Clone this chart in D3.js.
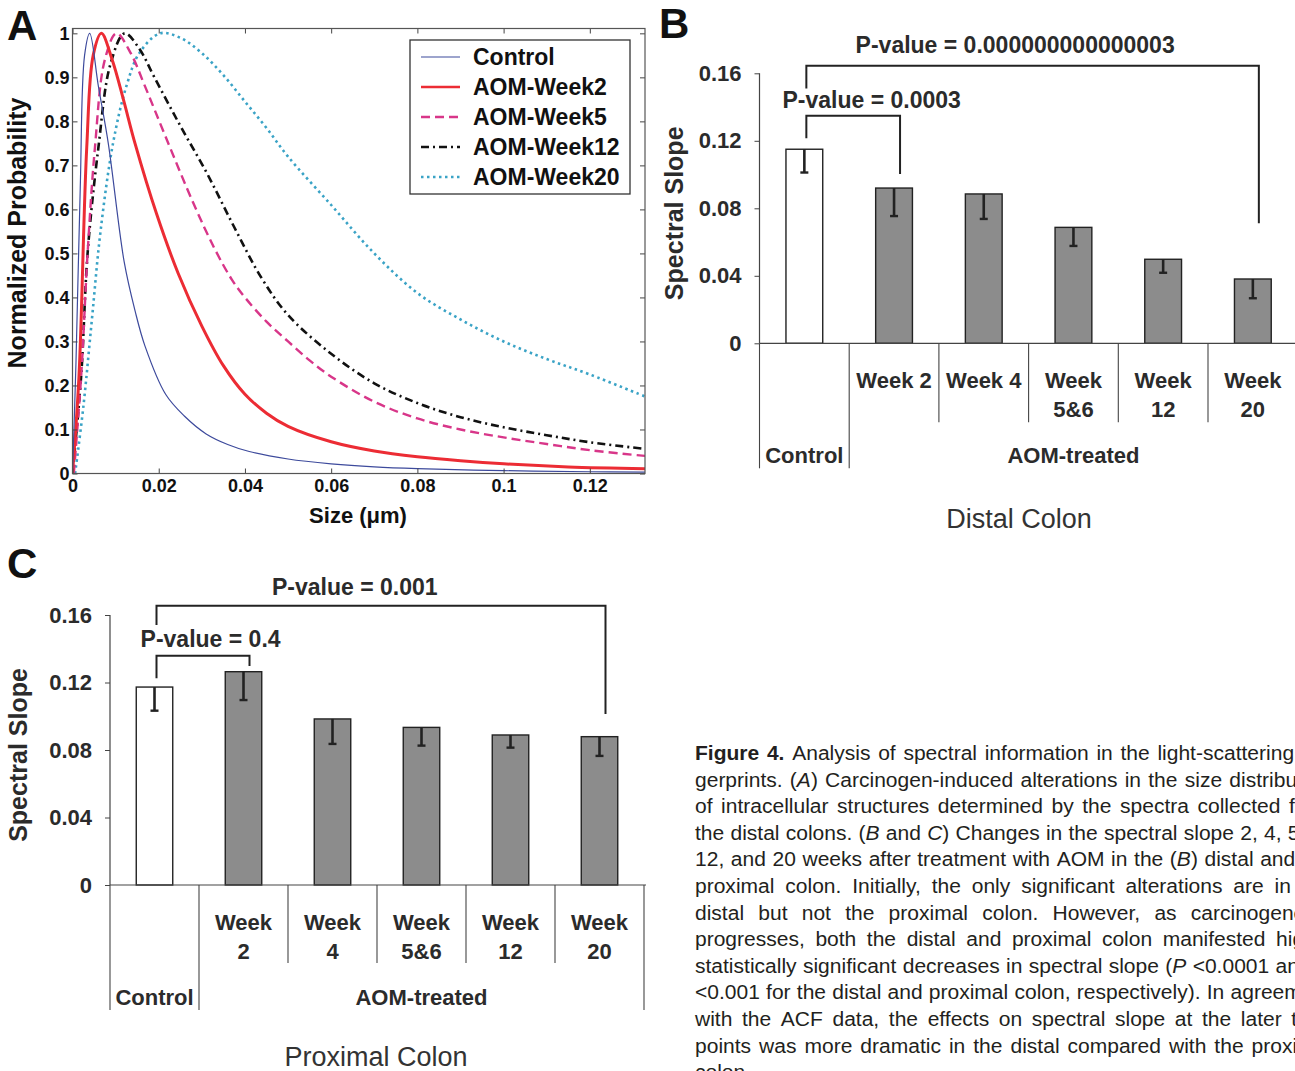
<!DOCTYPE html>
<html>
<head>
<meta charset="utf-8">
<script src="https://cdn.jsdelivr.net/npm/d3@7"></script>
<style>
  body { margin: 0; background: #fff; overflow: hidden; }
  svg { display: block; }
  text { font-family: "Liberation Sans", Arial, Helvetica, sans-serif; }
</style>
</head>
<body>
<svg id="fig" width="1295" height="1071"></svg>
<script>
// ---- data, panel A (size distributions)
const seriesNames = ["Control", "AOM-Week2", "AOM-Week5", "AOM-Week12", "AOM-Week20"];

const curveControl = [[0,0],[0.0008,0.25],[0.0018,0.65],[0.0028,0.95],[0.004,1],[0.006,0.88],[0.0083,0.75],
  [0.012,0.48],[0.0145,0.37],[0.0168,0.29],[0.0216,0.18],[0.026,0.13],[0.031,0.09],[0.036,0.066],[0.041,0.05],
  [0.05,0.033],[0.06,0.022],[0.07,0.015],[0.08,0.011],[0.1,0.0065],[0.12,0.004],[0.1328,0.003]];
const curveWeek2 = [[0,0],[0.0015,0.22],[0.0033,0.74],[0.0048,0.95],[0.0067,1],[0.0092,0.94],[0.0118,0.85],
  [0.0145,0.75],[0.0195,0.59],[0.0245,0.455],[0.03,0.335],[0.035,0.245],[0.04,0.18],[0.045,0.137],[0.05,0.107],
  [0.06,0.072],[0.07,0.051],[0.08,0.038],[0.09,0.029],[0.1,0.022],[0.115,0.015],[0.1328,0.011]];
const curveWeek5 = [[0.0003,0],[0.002,0.22],[0.0035,0.5],[0.0052,0.74],[0.0075,0.94],[0.0102,1],[0.0135,0.955],
  [0.0168,0.88],[0.0216,0.765],[0.028,0.615],[0.033,0.51],[0.037,0.44],[0.04,0.4],[0.045,0.345],[0.05,0.3],
  [0.055,0.257],[0.06,0.22],[0.07,0.163],[0.08,0.125],[0.09,0.1],[0.1,0.082],[0.11,0.067],[0.12,0.053],[0.1328,0.04]];
const curveWeek12 = [[0,0],[0.002,0.22],[0.0035,0.5],[0.006,0.74],[0.0088,0.93],[0.0121,1],[0.0155,0.965],
  [0.019,0.9],[0.025,0.79],[0.0313,0.68],[0.0375,0.56],[0.0438,0.445],[0.05,0.36],[0.06,0.272],[0.07,0.205],
  [0.08,0.16],[0.09,0.128],[0.1,0.105],[0.11,0.087],[0.12,0.071],[0.1328,0.056]];
const curveWeek20 = [[0.0006,0],[0.0025,0.15],[0.0045,0.35],[0.0065,0.55],[0.0094,0.75],[0.0125,0.88],[0.0155,0.955],
  [0.0203,1],[0.025,0.99],[0.03,0.955],[0.035,0.905],[0.04,0.845],[0.045,0.785],[0.05,0.72],[0.06,0.61],
  [0.07,0.5],[0.08,0.41],[0.09,0.35],[0.1,0.3],[0.11,0.26],[0.12,0.225],[0.1328,0.175]];
const curvesA = [curveControl, curveWeek2, curveWeek5, curveWeek12, curveWeek20];

const xTicksA = [0, 0.02, 0.04, 0.06, 0.08, 0.1, 0.12];
const yTicksA = [0, 0.1, 0.2, 0.3, 0.4, 0.5, 0.6, 0.7, 0.8, 0.9, 1];

// ---- data, panels B and C (spectral slope)
const groups = ["Control", "Week 2", "Week 4", "Week 5&6", "Week 12", "Week 20"];
const distalSlope = [0.115, 0.092, 0.0885, 0.0687, 0.0498, 0.0381];
const distalErr   = [0.0138, 0.0166, 0.0148, 0.011, 0.008, 0.0114];
const proximalSlope = [0.1173, 0.1264, 0.0984, 0.0934, 0.0889, 0.0879];
const proximalErr   = [0.014, 0.0168, 0.0148, 0.0108, 0.0075, 0.0114];
const slopeTicks = [0, 0.04, 0.08, 0.12, 0.16];

// brackets: from/to = group index, levels in slope units
const distalBrackets = [
  { from: 0, to: 5, top: 0.1645, leftEnd: 0.151, rightEnd: 0.0711, label: "P-value = 0.000000000000003", labelAt: 2.85, labelY: 0.1768 },
  { from: 0, to: 1, top: 0.1349, leftEnd: 0.1215, rightEnd: 0.1003, label: "P-value = 0.0003", labelAt: 1.25, labelY: 0.1442 }
];
const proximalBrackets = [
  { from: 0, to: 5, top: 0.1655, leftEnd: 0.1541, rightEnd: 0.1013, label: "P-value = 0.001", labelAt: 2.75, labelY: 0.1766 },
  { from: 0, to: 1, top: 0.1359, leftEnd: 0.1225, rightEnd: 0.1298, label: "P-value = 0.4", labelAt: 1.13, labelY: 0.1458 }
];

const captionLines = [
  "**Figure** **4.** Analysis of spectral information in the light-scattering fin-",
  "gerprints. (*A*) Carcinogen-induced alterations in the size distribution",
  "of intracellular structures determined by the spectra collected from",
  "the distal colons. (*B* and *C*) Changes in the spectral slope 2, 4, 5&6,",
  "12, and 20 weeks after treatment with AOM in the (*B*) distal and (*C*)",
  "proximal colon. Initially, the only significant alterations are in the",
  "distal but not the proximal colon. However, as carcinogenesis",
  "progresses, both the distal and proximal colon manifested highly",
  "statistically significant decreases in spectral slope (*P* <0.0001 and *P*",
  "<0.001 for the distal and proximal colon, respectively). In agreement",
  "with the ACF data, the effects on spectral slope at the later time",
  "points was more dramatic in the distal compared with the proximal",
  "colon."
];

const svg = d3.select("#fig");
const ink = "#111";
const grayInk = "#2b2b2b";

// ================= Panel A =================
const xA = d3.scaleLinear().domain([0, 0.1328]).range([72.5, 645]);
const yA = d3.scaleLinear().domain([0, 1.011]).range([473.5, 28.5]);
const gA = svg.append("g");

gA.append("clipPath").attr("id", "clipA").append("rect")
  .attr("x", xA.range()[0]).attr("y", yA.range()[1])
  .attr("width", xA.range()[1] - xA.range()[0]).attr("height", yA.range()[0] - yA.range()[1]);

const styleA = {
  "Control":    { stroke: "#3d4a9c", w: 1.2, dash: null },
  "AOM-Week2":  { stroke: "#ec2c34", w: 3,   dash: null },
  "AOM-Week5":  { stroke: "#d83689", w: 2.4, dash: "9,5" },
  "AOM-Week12": { stroke: "#111",    w: 2.6, dash: "8,4,2,4" },
  "AOM-Week20": { stroke: "#3aa3c6", w: 2.6, dash: "2.5,3.5" }
};

const lineA = d3.line().x(d => xA(d[0])).y(d => yA(d[1])).curve(d3.curveCatmullRom.alpha(0.5));
const order = [4, 3, 2, 1, 0];
gA.append("g").attr("clip-path", "url(#clipA)")
  .selectAll("path")
  .data(order)
  .join("path")
    .attr("d", i => lineA(curvesA[i]))
    .attr("fill", "none")
    .attr("stroke", i => styleA[seriesNames[i]].stroke)
    .attr("stroke-width", i => styleA[seriesNames[i]].w)
    .attr("stroke-dasharray", i => styleA[seriesNames[i]].dash);

// axes (inward ticks on all four sides)
const fmtA = d3.format("~g");
gA.append("g").attr("transform", `translate(0,${yA.range()[0]})`)
  .call(d3.axisBottom(xA).tickValues(xTicksA).tickSize(-5).tickPadding(6).tickFormat(fmtA));
gA.append("g").attr("transform", `translate(${xA.range()[0]},0)`)
  .call(d3.axisLeft(yA).tickValues(yTicksA).tickSize(-5).tickPadding(3).tickFormat(fmtA));
gA.append("g").attr("transform", `translate(0,${yA.range()[1]})`)
  .call(d3.axisTop(xA).tickValues(xTicksA).tickSize(-5).tickFormat(""));
gA.append("g").attr("transform", `translate(${xA.range()[1]},0)`)
  .call(d3.axisRight(yA).tickValues(yTicksA).tickSize(-5).tickFormat(""));
gA.selectAll(".domain").remove();
gA.selectAll(".tick line").attr("stroke", "#444").attr("stroke-width", 1);
gA.selectAll(".tick text").attr("font-size", 18).attr("font-weight", "bold").attr("fill", ink)
  .attr("font-family", "'Liberation Sans', Arial, sans-serif");
gA.append("rect")
  .attr("x", xA.range()[0]).attr("y", yA.range()[1])
  .attr("width", xA.range()[1] - xA.range()[0]).attr("height", yA.range()[0] - yA.range()[1])
  .attr("fill", "none").attr("stroke", "#555").attr("stroke-width", 1.2);

gA.append("text").text("Size (\u03bcm)")
  .attr("x", 358).attr("y", 523).attr("text-anchor", "middle")
  .attr("font-size", 22).attr("font-weight", "bold").attr("fill", ink);
gA.append("text").text("Normalized Probability")
  .attr("transform", "translate(26,233) rotate(-90)").attr("text-anchor", "middle")
  .attr("font-size", 25).attr("font-weight", "bold").attr("fill", ink);

// legend
const leg = gA.append("g");
leg.append("rect").attr("x", 410).attr("y", 40).attr("width", 220).attr("height", 154)
  .attr("fill", "#fff").attr("stroke", "#333").attr("stroke-width", 1.3);
const legItem = leg.selectAll("g.item").data(seriesNames).join("g")
  .attr("class", "item")
  .attr("transform", (d, i) => `translate(0,${57 + i * 30})`);
legItem.append("line").attr("x1", 421).attr("x2", 460)
  .attr("stroke", d => styleA[d].stroke)
  .attr("stroke-width", d => Math.min(styleA[d].w, 2.6))
  .attr("stroke-dasharray", d => styleA[d].dash);
legItem.append("text").text(d => d).attr("x", 473).attr("dy", "0.36em")
  .attr("font-size", 23).attr("font-weight", "bold").attr("fill", ink);

svg.append("text").text("A").attr("x", 7).attr("y", 40)
  .attr("font-size", 42).attr("font-weight", "bold").attr("fill", ink);

// ================= Panels B & C =================
function slopePanel(opt) {
  const g = svg.append("g");
  const x = d3.scaleBand().domain(groups).range(opt.xRange).paddingInner(0).paddingOuter(0);
  const y = d3.scaleLinear().domain([0, 0.16]).range(opt.yRange);
  const bw = x.bandwidth();
  const base = y(0);
  const barW = bw * 0.41;
  const cx = i => x(groups[i]) + bw / 2;

  // y axis
  const ax = g.append("g").attr("transform", `translate(${opt.xRange[0]},0)`)
    .call(d3.axisLeft(y).tickValues(slopeTicks).tickSize(5).tickPadding(13).tickFormat(d3.format("~g")));
  ax.select(".domain").remove();
  ax.selectAll(".tick line").attr("stroke", "#444");
  ax.selectAll(".tick text").attr("font-size", 22).attr("font-weight", "bold").attr("fill", grayInk)
    .attr("font-family", "'Liberation Sans', Arial, sans-serif");

  // bars
  g.selectAll("rect.bar").data(opt.values).join("rect")
    .attr("class", "bar")
    .attr("x", (d, i) => cx(i) - barW / 2)
    .attr("y", d => y(d))
    .attr("width", barW)
    .attr("height", d => base - y(d))
    .attr("fill", (d, i) => i === 0 ? "#fff" : "#8c8c8c")
    .attr("stroke", "#222").attr("stroke-width", 1.4);

  // error bars (minus side only)
  const eb = g.selectAll("g.err").data(opt.values).join("g").attr("class", "err");
  eb.append("line")
    .attr("x1", (d, i) => cx(i)).attr("x2", (d, i) => cx(i))
    .attr("y1", d => y(d)).attr("y2", (d, i) => y(d - opt.errs[i]))
    .attr("stroke", "#222").attr("stroke-width", 2.6);
  eb.append("line")
    .attr("x1", (d, i) => cx(i) - 4).attr("x2", (d, i) => cx(i) + 4)
    .attr("y1", (d, i) => y(d - opt.errs[i])).attr("y2", (d, i) => y(d - opt.errs[i]))
    .attr("stroke", "#222").attr("stroke-width", 2.4);

  // baseline, axis line and category separators
  g.append("line").attr("x1", opt.xRange[0]).attr("x2", opt.xRange[1] + 2)
    .attr("y1", base).attr("y2", base).attr("stroke", "#444").attr("stroke-width", 1.2);
  g.append("line").attr("x1", opt.xRange[0]).attr("x2", opt.xRange[0])
    .attr("y1", y(0.16)).attr("y2", base).attr("stroke", "#444").attr("stroke-width", 1.2);
  const seps = d3.range(groups.length + 1);
  g.selectAll("line.sep").data(seps).join("line").attr("class", "sep")
    .attr("x1", i => opt.xRange[0] + i * bw).attr("x2", i => opt.xRange[0] + i * bw)
    .attr("y1", base)
    .attr("y2", i => base + ((i === 0 || i === 1 || i === groups.length) ? opt.deep : opt.shallow))
    .attr("stroke", "#444").attr("stroke-width", 1.1);

  // category labels
  groups.slice(1).forEach((name, k) => {
    const i = k + 1;
    const parts = opt.split[i] ? name.split(" ") : [name];
    parts.forEach((p, j) => {
      g.append("text").text(p).attr("x", cx(i)).attr("y", base + 37 + j * 29)
        .attr("dy", "0.36em").attr("text-anchor", "middle")
        .attr("font-size", 22).attr("font-weight", "bold").attr("fill", grayInk);
    });
  });
  g.append("text").text("Control").attr("x", cx(0)).attr("y", base + 112).attr("dy", "0.36em")
    .attr("text-anchor", "middle").attr("font-size", 22).attr("font-weight", "bold").attr("fill", grayInk);
  g.append("text").text("AOM-treated").attr("x", (x(groups[1]) + opt.xRange[1]) / 2).attr("y", base + 112)
    .attr("dy", "0.36em").attr("text-anchor", "middle")
    .attr("font-size", 22).attr("font-weight", "bold").attr("fill", grayInk);
  g.append("text").text(opt.title).attr("x", opt.titleX).attr("y", base + opt.titleDy).attr("dy", "0.36em")
    .attr("text-anchor", "middle").attr("font-size", 27).attr("fill", "#333");

  // brackets
  opt.brackets.forEach(b => {
    const xl = cx(b.from) + 2, xr = cx(b.to) + 6;
    g.append("path")
      .attr("d", `M${xl},${y(b.leftEnd)}V${y(b.top)}H${xr}V${y(b.rightEnd)}`)
      .attr("fill", "none").attr("stroke", "#222").attr("stroke-width", 2);
    g.append("text").text(b.label)
      .attr("x", opt.xRange[0] + b.labelAt * bw).attr("y", y(b.labelY)).attr("dy", "0.36em")
      .attr("text-anchor", "middle").attr("font-size", 23).attr("font-weight", "bold").attr("fill", grayInk);
  });

  // y title and panel letter
  const yMid = (opt.yRange[0] + opt.yRange[1]) / 2 + 5;
  g.append("text").text("Spectral Slope")
    .attr("transform", `translate(${opt.yTitleX},${yMid}) rotate(-90)`)
    .attr("text-anchor", "middle").attr("font-size", 25).attr("font-weight", "bold").attr("fill", grayInk);
  svg.append("text").text(opt.letter).attr("x", opt.letterPos[0]).attr("y", opt.letterPos[1])
    .attr("font-size", 42).attr("font-weight", "bold").attr("fill", ink);
}

slopePanel({
  values: distalSlope, errs: distalErr, brackets: distalBrackets,
  xRange: [759.5, 759.5 + 6 * 89.7], yRange: [343.3, 73.3],
  deep: 125, shallow: 79, split: [false, false, false, true, true, true],
  title: "Distal Colon", titleX: 1019, titleDy: 175, yTitleX: 683, letter: "B", letterPos: [659, 38]
});
slopePanel({
  values: proximalSlope, errs: proximalErr, brackets: proximalBrackets,
  xRange: [110, 644], yRange: [885, 615],
  deep: 125, shallow: 78, split: [false, true, true, true, true, true],
  title: "Proximal Colon", titleX: 376, titleDy: 171, yTitleX: 27, letter: "C", letterPos: [7, 578]
});

// ================= Caption =================
const capG = svg.append("g").attr("fill", "#231f20");
const capX = 695, capW = 636, capTop = 760, capStep = 26.6;

function segs(word) {
  return (word.match(/\*\*[^*]+\*\*|\*[^*]+\*|[^*]+/g) || []).map(s => {
    if (s.startsWith("**")) return { t: s.slice(2, -2), b: true };
    if (s.startsWith("*")) return { t: s.slice(1, -1), i: true };
    return { t: s };
  });
}
function makeWord(parent, word, fs) {
  const t = parent.append("text").attr("font-size", fs);
  segs(word).forEach(s => {
    t.append("tspan").text(s.t)
      .attr("font-weight", s.b ? "bold" : null)
      .attr("font-style", s.i ? "italic" : null);
  });
  return t;
}
function natural(line, fs) {
  const tmp = svg.append("g");
  const words = line.split(" ");
  let w = 0;
  words.forEach(wd => { w += makeWord(tmp, wd, fs).node().getComputedTextLength(); });
  const sp = tmp.append("text").attr("font-size", fs).text("a a").node().getComputedTextLength()
    - 2 * tmp.append("text").attr("font-size", fs).text("a").node().getComputedTextLength();
  tmp.remove();
  return w + sp * (words.length - 1);
}
const capFs = Math.max(17, Math.min(22, 20 * (capW - 4) / natural(captionLines[8], 20)));

captionLines.forEach((line, li) => {
  const words = line.split(" ");
  const nodes = words.map(wd => makeWord(capG, wd, capFs));
  const widths = nodes.map(n => n.node().getComputedTextLength());
  const total = d3.sum(widths);
  const last = li === captionLines.length - 1;
  const gap = last || words.length < 2 ? capFs * 0.28 : Math.max(capFs * 0.2, (capW - total) / (words.length - 1));
  let xx = capX;
  nodes.forEach((n, k) => {
    n.attr("x", xx).attr("y", capTop + li * capStep);
    xx += widths[k] + gap;
  });
});
</script>
</body>
</html>
